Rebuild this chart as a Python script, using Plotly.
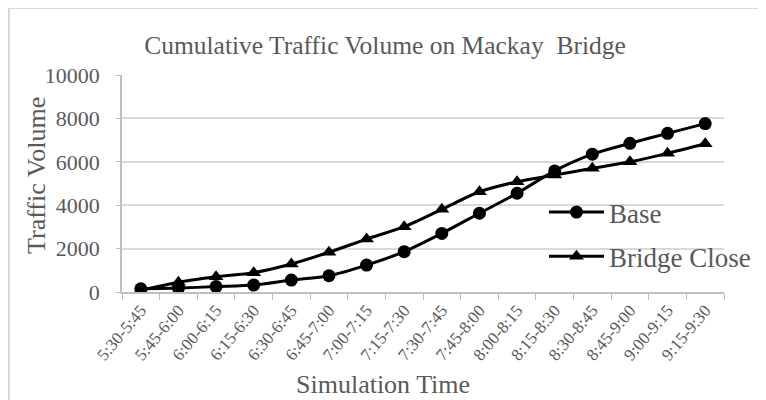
import plotly.graph_objects as go

categories = ["5:30-5:45", "5:45-6:00", "6:00-6:15", "6:15-6:30", "6:30-6:45", "6:45-7:00",
              "7:00-7:15", "7:15-7:30", "7:30-7:45", "7:45-8:00", "8:00-8:15", "8:15-8:30",
              "8:30-8:45", "8:45-9:00", "9:00-9:15", "9:15-9:30"]
base = [150, 180, 250, 320, 550, 750, 1240, 1860, 2700, 3630, 4550, 5580, 6350, 6850, 7310, 7760]
bridge_close = [80, 450, 700, 890, 1290, 1830, 2440, 3010, 3810, 4620, 5080, 5390, 5700, 6000, 6390, 6830]
y_ticks = [0, 2000, 4000, 6000, 8000, 10000]
y_tick_text = ["0", "2000", "4000", "6000", "8000", "10000"]

FONT = "Liberation Serif"
GREY = "#595959"

fig = go.Figure()
fig.add_trace(go.Scatter(
    x=categories, y=base, name="Base", mode="lines+markers", legendgroup="a",
    line=dict(color="black", width=3, shape="spline", smoothing=0.8),
    marker=dict(symbol="circle", size=13, color="black")))
fig.add_trace(go.Scatter(
    x=categories, y=bridge_close, name="Bridge Close", mode="lines+markers", legendgroup="b",
    line=dict(color="black", width=3, shape="spline", smoothing=0.8),
    marker=dict(symbol="triangle-up", size=13, color="black")))

# the page body has an 8px default margin; lay the figure out in screen pixels
OFF = 8
W, H = 766 - OFF, 400 - OFF
PL, PR, PT, PB = 122, 724, 75, 292          # plot area in screen pixels
L, T = PL - OFF, PT - OFF
R, B = W - (PR - OFF), H - (PB - OFF)
pw, ph = W - L - R, H - T - B

def px2paperx(px):
    return (px - OFF - L) / pw

def py2papery(py):
    return (H - B - (py - OFF)) / ph

fig.update_layout(
    width=W, height=H,
    margin=dict(l=L, r=R, t=T, b=B, autoexpand=False),
    paper_bgcolor="white", plot_bgcolor="white",
    font=dict(family=FONT, color=GREY),
    title=dict(text="Cumulative Traffic Volume on Mackay  Bridge", x=(385 - OFF) / W, xref="container",
               xanchor="center", y=1 - (45 - OFF) / H, yref="container", yanchor="middle",
               font=dict(size=25.5, color=GREY, family=FONT)),
    showlegend=True,
    legend=dict(x=px2paperx(544), y=py2papery(188), xanchor="left", yanchor="top",
                bgcolor="rgba(0,0,0,0)", font=dict(size=27, color=GREY, family=FONT),
                itemwidth=55, tracegroupgap=6),
    xaxis=dict(type="category", range=[-0.5, len(categories) - 0.5], automargin=False,
               showgrid=False, showline=True, linecolor="#bfbfbf", linewidth=1.5,
               ticks="outside", tickson="boundaries", ticklen=6, tickcolor="#bfbfbf",
               tickangle=-50, tickfont=dict(size=17, color=GREY, family=FONT)),
    yaxis=dict(range=[0, 10000], tickvals=y_ticks, ticktext=y_tick_text, automargin=False,
               showgrid=True, gridcolor="#d9d9d9", gridwidth=1.5,
               showline=True, linecolor="#bfbfbf", linewidth=1.5, ticks="outside", ticklen=4,
               tickcolor="#bfbfbf", zeroline=False, ticklabelstandoff=12,
               tickfont=dict(size=22, color=GREY, family=FONT)),
    annotations=[
        dict(text="Simulation Time", x=px2paperx(383), y=py2papery(384), xref="paper", yref="paper",
             showarrow=False, xanchor="center", yanchor="middle",
             font=dict(size=26, color=GREY, family=FONT)),
        dict(text="Traffic Volume", x=px2paperx(36), y=py2papery(176), xref="paper", yref="paper",
             showarrow=False, xanchor="center", yanchor="middle", textangle=-90,
             font=dict(size=26, color=GREY, family=FONT)),
    ],
    shapes=[
        dict(type="line", xref="paper", yref="paper", x0=px2paperx(9), x1=px2paperx(780),
             y0=py2papery(8), y1=py2papery(8), line=dict(color="#d9d9d9", width=2)),
        dict(type="line", xref="paper", yref="paper", x0=px2paperx(9), x1=px2paperx(9),
             y0=py2papery(8), y1=py2papery(420), line=dict(color="#d9d9d9", width=2)),
    ],
)

fig.write_html("out.html")
